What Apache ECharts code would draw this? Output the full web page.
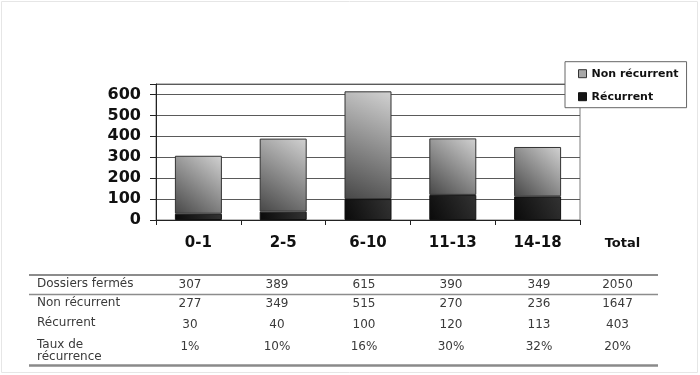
<!DOCTYPE html>
<html>
<head>
<meta charset="utf-8">
<script src="https://cdn.jsdelivr.net/npm/echarts@6/dist/echarts.min.js"></script>
<style>
  html, body { margin: 0; padding: 0; background: #fff; }
  #chart { width: 700px; height: 375px; }
</style>
</head>
<body>
<div id="chart"></div>
<script>
// ---- data ----
const categories = ['0-1', '2-5', '6-10', '11-13', '14-18'];
const totalLabel = ['Total'];
const nonRecurrent = [277, 349, 515, 270, 236];
const recurrent = [30, 40, 100, 120, 113];
const legendNames = ['Non récurrent', 'Récurrent'];
const yMax = 650;
const yStep = 100;

const tableRowLabels = ['Dossiers fermés', 'Non récurrent', 'Récurrent', 'Taux de\nrécurrence'];
const rowDossiers = ['307', '389', '615', '390', '349', '2050'];
const rowNonRecurrent = ['277', '349', '515', '270', '236', '1647'];
const rowRecurrent = ['30', '40', '100', '120', '113', '403'];
const rowTaux = ['1%', '10%', '16%', '30%', '32%', '20%'];

// ---- layout ----
const colX = [190, 277, 364, 451, 539, 617.5];
const rowY = [284.5, 304, 325, 347];
const labelRowY = [283.7, 303, 323, 350.9];
const tableLeft = 29, tableRight = 658;

const chart = echarts.init(document.getElementById('chart'), null, { renderer: 'canvas' });

const boldFont = 'DejaVu Sans';
const graphics = [];
graphics.push({
  type: 'rect', z: 0, silent: true,
  shape: { x: 1.5, y: 1.5, width: 696, height: 371 },
  style: { fill: 'none', stroke: '#e6e6e6', lineWidth: 1 }
});
[[275, 2, '#8c8c8c'], [294.5, 1.5, '#8c8c8c'], [365.5, 2.5, '#8a8a8a']].forEach(function (l) {
  graphics.push({
    type: 'line', silent: true,
    shape: { x1: tableLeft, y1: l[0], x2: tableRight, y2: l[0] },
    style: { stroke: l[2], lineWidth: l[1] }
  });
});
tableRowLabels.forEach(function (t, i) {
  graphics.push({
    type: 'text', silent: true,
    style: {
      text: t, x: 37, y: labelRowY[i], align: 'left', verticalAlign: 'middle',
      font: '12px "DejaVu Sans"', fill: '#3a3a3a', lineHeight: 12.5
    }
  });
});
[rowDossiers, rowNonRecurrent, rowRecurrent, rowTaux].forEach(function (row, r) {
  row.forEach(function (v, c) {
    graphics.push({
      type: 'text', silent: true,
      style: {
        text: v, x: colX[c], y: rowY[r], align: 'center', verticalAlign: 'middle',
        font: '12px "DejaVu Sans"', fill: '#3a3a3a'
      }
    });
  });
});

const option = {
  backgroundColor: '#fff',
  animation: false,
  grid: [
    { left: 156, right: 120, top: 84, bottom: 155, show: true, borderColor: '#7a7a7a', borderWidth: 1, backgroundColor: 'transparent' },
    { left: 580, right: 35.2, top: 84, bottom: 155, show: false }
  ],
  legend: {
    orient: 'vertical',
    left: 565, top: 61.7,
    padding: [5, 8, 4, 13],
    itemGap: 9,
    itemWidth: 8, itemHeight: 8,
    icon: 'rect',
    backgroundColor: '#fff',
    borderColor: '#666', borderWidth: 1,
    textStyle: { fontFamily: boldFont, fontWeight: 'bold', fontSize: 11, color: '#111', lineHeight: 14 },
    data: [
      { name: legendNames[0], itemStyle: { color: '#a8a8a8', borderColor: '#333', borderWidth: 1 } },
      { name: legendNames[1], itemStyle: { color: '#151515', borderColor: '#111', borderWidth: 1 } }
    ]
  },
  xAxis: [
    {
      type: 'category', gridIndex: 0, data: categories,
      axisLine: { show: true, lineStyle: { color: '#222', width: 1 } },
      axisTick: { show: true, length: 5, lineStyle: { color: '#222' } },
      axisLabel: { margin: 16, fontFamily: boldFont, fontWeight: 'bold', fontSize: 15, color: '#111' },
      splitLine: { show: false }
    },
    {
      type: 'category', gridIndex: 1, data: totalLabel,
      axisLine: { show: false }, axisTick: { show: false },
      axisLabel: { margin: 17, fontFamily: boldFont, fontWeight: 'bold', fontSize: 13, color: '#111' },
      splitLine: { show: false }
    }
  ],
  yAxis: [
    {
      type: 'value', gridIndex: 0, min: 0, max: yMax, interval: yStep,
      axisLine: { show: true, lineStyle: { color: '#222', width: 1 } },
      axisTick: { show: true, length: 6, lineStyle: { color: '#222' } },
      axisLabel: {
        margin: 15, fontFamily: boldFont, fontWeight: 'bold', fontSize: 16, color: '#111',
        formatter: function (v) { return v > 600 ? '' : String(v); }
      },
      splitLine: { show: true, lineStyle: { color: '#5a5a5a', width: 1 } }
    },
    { type: 'value', gridIndex: 1, min: 0, max: 1, show: false }
  ],
  series: [
    {
      name: legendNames[1], type: 'bar', stack: 'total', xAxisIndex: 0, yAxisIndex: 0,
      barWidth: 47, data: recurrent,
      itemStyle: {
        color: new echarts.graphic.LinearGradient(0, 1, 1, 0, [
          { offset: 0, color: '#0a0a0a' }, { offset: 1, color: '#333333' }
        ]),
        borderColor: '#111', borderWidth: 1
      }
    },
    {
      name: legendNames[0], type: 'bar', stack: 'total', xAxisIndex: 0, yAxisIndex: 0,
      barWidth: 47, data: nonRecurrent,
      itemStyle: {
        color: new echarts.graphic.LinearGradient(0, 1, 1, 0, [
          { offset: 0, color: '#474747' }, { offset: 1, color: '#d2d2d2' }
        ]),
        borderColor: '#333', borderWidth: 1
      }
    }
  ],
  graphic: graphics
};
chart.setOption(option);
</script>
</body>
</html>
